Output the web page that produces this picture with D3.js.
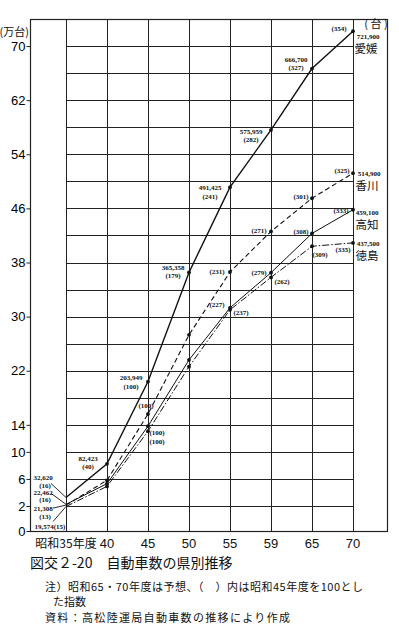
<!DOCTYPE html>
<html>
<head>
<meta charset="utf-8">
<script src="https://cdn.jsdelivr.net/npm/d3@7"></script>
<style>
  body { margin: 0; background: #fff; }
  svg { display: block; }
  .num { font-family: "Liberation Serif", serif; font-weight: bold; font-size: 7px; fill: #111; }
  .pref { font-family: "Noto Sans CJK JP", sans-serif; font-size: 11.5px; fill: #111; }
  .jp { font-family: "Noto Sans CJK JP", sans-serif; fill: #111; }
</style>
</head>
<body>
<svg id="svg" width="399" height="640"></svg>
<script>
// data (万台)
var years = ["35", "40", "45", "50", "55", "59", "65", "70"];
var yearLabels = ["昭和35年度", "40", "45", "50", "55", "59", "65", "70"];
var ehime = [3.262, 8.242, 20.395, 36.536, 49.143, 57.596, 66.670, 72.190];
var kagawa = [2.131, 5.8, 15.6, 27.3, 36.6, 42.6, 47.5, 51.2];
var kochi = [2.246, 5.3, 13.8, 23.6, 31.3, 36.5, 42.3, 45.8];
var tokushima = [1.957, 4.9, 13.06, 22.6, 31.0, 35.8, 40.4, 40.9];
var yTicks = [0, 2, 6, 10, 14, 22, 30, 38, 46, 54, 62, 70];

var series = [
  { name: "愛媛", values: ehime, dash: null, w: 1.4 },
  { name: "香川", values: kagawa, dash: "5,3", w: 1.1 },
  { name: "高知", values: kochi, dash: null, w: 1.0 },
  { name: "徳島", values: tokushima, dash: "7,2,1.5,2", w: 1.0 }
];

// annotations: series index, point index, text, offset from point
var notes = [
  [0, 0, "32,620", -23, -20], [0, 0, "(16)", -21, -12],
  [0, 1, "82,423", -19, -5], [0, 1, "(40)", -19, 3],
  [0, 2, "203,949", -17, -4], [0, 2, "(100)", -17, 5],
  [0, 3, "365,358", -16, -5], [0, 3, "(179)", -16, 3],
  [0, 4, "491,425", -20, 0], [0, 4, "(241)", -20, 9],
  [0, 5, "575,959", -20, 2], [0, 5, "(282)", -20, 10],
  [0, 6, "666,700", -16, -9], [0, 6, "(327)", -16, -1],
  [0, 7, "(354)", -14, -3], [0, 7, "721,900", 15, 5],
  [1, 0, "21,308", -23, 3], [1, 0, "(13)", -21, 11],
  [1, 2, "(100)", -2, -8],
  [1, 4, "(231)", -13, 0],
  [1, 5, "(271)", -12, -1],
  [1, 6, "(301)", -11, -2],
  [1, 7, "(325)", -11, -3], [1, 7, "514,900", 16, 0],
  [2, 0, "22,462", -23, -12], [2, 0, "(16)", -21, -5],
  [2, 2, "(100)", 9, 6],
  [2, 4, "(227)", -13, -3],
  [2, 5, "(279)", -12, 0],
  [2, 6, "(308)", -11, -2],
  [2, 7, "(333)", -12, 1], [2, 7, "459,100", 14, 3],
  [3, 0, "19,574(15)", -16, 20],
  [3, 2, "(100)", 9, 10],
  [3, 4, "(237)", 11, 3],
  [3, 5, "(262)", 11, 4],
  [3, 6, "(309)", 8, 8],
  [3, 7, "(335)", -10, 7], [3, 7, "437,500", 15, 1]
];
// leader lines at 昭和35年度 (start offset from point)
var leaders = [[0, -15, -14], [2, -15, -11], [1, -13, 3], [3, -13, 15]];
var nameOffsets = [[13, 17], [14, 12], [14, 15], [14, 13]];

var svg = d3.select("#svg");
var plotLeft = 30, plotRight = 387, plotTop = 19, plotBottom = 531;

var x = d3.scalePoint().domain(years).range([66, 353]);
// broken scale: 0-2 stretched at the bottom
var y = d3.scaleLinear().domain([0, 2, 74]).range([plotBottom, 506, plotTop]);

// grid
var grid = svg.append("g").attr("stroke", "#222").attr("stroke-width", 1);
d3.range(2, 71, 4).forEach(function(v) {
  grid.append("line").attr("x1", x("35")).attr("x2", x("70"))
    .attr("y1", Math.round(y(v)) + 0.5).attr("y2", Math.round(y(v)) + 0.5);
});
years.forEach(function(yr) {
  grid.append("line").attr("x1", Math.round(x(yr)) + 0.5).attr("x2", Math.round(x(yr)) + 0.5)
    .attr("y1", plotTop).attr("y2", plotBottom);
});
// frame
svg.append("rect").attr("x", plotLeft + 0.5).attr("y", plotTop + 0.5)
  .attr("width", plotRight - plotLeft).attr("height", plotBottom - plotTop)
  .attr("fill", "none").attr("stroke", "#222").attr("stroke-width", 1.2);

// y axis
var yAxis = svg.append("g")
  .attr("transform", "translate(" + (plotLeft + 0.5) + ",0)")
  .call(d3.axisLeft(y).tickValues(yTicks).tickSize(4).tickPadding(1).tickSizeOuter(0));
yAxis.select(".domain").remove();
yAxis.selectAll("line").attr("stroke", "#222");
yAxis.selectAll("text").style("font-family", "Liberation Sans").style("font-size", "13px");

// x axis labels
svg.append("g").selectAll("text").data(years).enter().append("text")
  .attr("class", "jp")
  .attr("x", function(d) { return x(d); })
  .attr("y", 548)
  .attr("text-anchor", "middle")
  .style("font-size", function(d, i) { return i == 0 ? "12px" : "13px"; })
  .style("font-family", function(d, i) { return i == 0 ? "Noto Sans CJK JP" : "Liberation Sans"; })
  .text(function(d, i) { return yearLabels[i]; });

// units
svg.append("text").attr("class", "jp").attr("x", 29).attr("y", 36)
  .attr("text-anchor", "end").style("font-size", "11px").text("(万台)");
svg.append("text").attr("class", "jp").attr("x", 376).attr("y", 28)
  .attr("text-anchor", "middle").style("font-size", "11px").text("( 台 )");

// lines
var line = d3.line()
  .x(function(d, i) { return x(years[i]); })
  .y(function(d) { return y(d); });

series.forEach(function(s) {
  svg.append("path").datum(s.values)
    .attr("d", line)
    .attr("fill", "none")
    .attr("stroke", "#111")
    .attr("stroke-width", s.w)
    .attr("stroke-dasharray", s.dash);
  svg.append("g").selectAll("circle").data(s.values.slice(1)).enter().append("circle")
    .attr("cx", function(d, i) { return x(years[i + 1]); })
    .attr("cy", function(d) { return y(d); })
    .attr("r", 1.9)
    .attr("fill", "#111");
});

// leaders
leaders.forEach(function(l) {
  var v = series[l[0]].values[0];
  svg.append("line")
    .attr("x1", x("35") + l[1]).attr("y1", y(v) + l[2])
    .attr("x2", x("35")).attr("y2", y(v))
    .attr("stroke", "#111").attr("stroke-width", 0.9);
});

// number labels
svg.append("g").selectAll("text").data(notes).enter().append("text")
  .attr("class", "num")
  .attr("x", function(d) { return x(years[d[1]]) + d[3]; })
  .attr("y", function(d) { return y(series[d[0]].values[d[1]]) + d[4]; })
  .attr("dy", "0.35em")
  .attr("text-anchor", "middle")
  .text(function(d) { return d[2]; });

// prefecture names
series.forEach(function(s, k) {
  svg.append("text").attr("class", "pref")
    .attr("x", x("70") + nameOffsets[k][0])
    .attr("y", y(s.values[7]) + nameOffsets[k][1])
    .attr("dy", "0.38em")
    .attr("text-anchor", "middle")
    .text(s.name);
});

// caption and notes
svg.append("text").attr("class", "jp").attr("x", 30).attr("y", 568)
  .style("font-size", "14px").text("図交２-20　自動車数の県別推移");
svg.append("text").attr("class", "jp").attr("x", 45).attr("y", 591)
  .style("font-size", "11px").attr("textLength", 318)
  .text("注）昭和65・70年度は予想、（　）内は昭和45年度を100とし");
svg.append("text").attr("class", "jp").attr("x", 53).attr("y", 606)
  .style("font-size", "11px").text("た指数");
svg.append("text").attr("class", "jp").attr("x", 45).attr("y", 622)
  .style("font-size", "11px").attr("textLength", 245).text("資料：高松陸運局自動車数の推移により作成");
</script>
</body>
</html>
